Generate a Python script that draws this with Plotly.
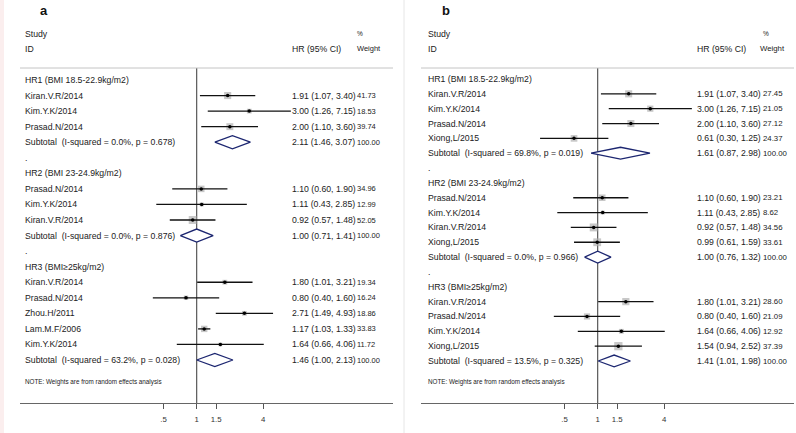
import plotly.graph_objects as go
import math

W, H = 796, 433
FONT = "Liberation Sans, Arial, sans-serif"

# ---------------- data ----------------
group_labels = ["HR1 (BMI 18.5-22.9kg/m2)", "HR2 (BMI 23-24.9kg/m2)", "HR3 (BMI\u226525kg/m2)"]

# Panel a
a_studies = [["Kiran.V.R/2014", "Kim.Y.K/2014", "Prasad.N/2014"],
             ["Prasad.N/2014", "Kim.Y.K/2014", "Kiran.V.R/2014"],
             ["Kiran.V.R/2014", "Prasad.N/2014", "Zhou.H/2011", "Lam.M.F/2006", "Kim.Y.K/2014"]]
a_hr = [[1.91, 3.00, 2.00], [1.10, 1.11, 0.92], [1.80, 0.80, 2.71, 1.17, 1.64]]
a_lo = [[1.07, 1.26, 1.10], [0.60, 0.43, 0.57], [1.01, 0.40, 1.49, 1.03, 0.66]]
a_hi = [[3.40, 7.15, 3.60], [1.90, 2.85, 1.48], [3.21, 1.60, 4.93, 1.33, 4.06]]
a_w = [[41.73, 18.53, 39.74], [34.96, 12.99, 52.05], [19.34, 16.24, 18.86, 33.83, 11.72]]
a_sub_hr = [2.11, 1.00, 1.46]
a_sub_lo = [1.46, 0.71, 1.00]
a_sub_hi = [3.07, 1.41, 2.13]
a_sub_i2 = ["0.0%", "0.0%", "63.2%"]
a_sub_p = ["0.678", "0.876", "0.028"]

# Panel b
b_studies = [["Kiran.V.R/2014", "Kim.Y.K/2014", "Prasad.N/2014", "Xiong,L/2015"],
             ["Prasad.N/2014", "Kim.Y.K/2014", "Kiran.V.R/2014", "Xiong,L/2015"],
             ["Kiran.V.R/2014", "Prasad.N/2014", "Kim.Y.K/2014", "Xiong,L/2015"]]
b_hr = [[1.91, 3.00, 2.00, 0.61], [1.10, 1.11, 0.92, 0.99], [1.80, 0.80, 1.64, 1.54]]
b_lo = [[1.07, 1.26, 1.10, 0.30], [0.60, 0.43, 0.57, 0.61], [1.01, 0.40, 0.66, 0.94]]
b_hi = [[3.40, 7.15, 3.60, 1.25], [1.90, 2.85, 1.48, 1.59], [3.21, 1.60, 4.06, 2.52]]
b_w = [[27.45, 21.05, 27.12, 24.37], [23.21, 8.62, 34.56, 33.61], [28.60, 21.09, 12.92, 37.39]]
b_sub_hr = [1.61, 1.00, 1.41]
b_sub_lo = [0.87, 0.76, 1.01]
b_sub_hi = [2.98, 1.32, 1.98]
b_sub_i2 = ["69.8%", "0.0%", "13.5%"]
b_sub_p = ["0.019", "0.966", "0.325"]

tick_vals = [0.5, 1, 1.5, 4]
tick_text = [".5", "1", "1.5", "4"]

TXT = 8.7

fig = go.Figure()
annotations = []
shapes = []


def px_x(p):
    return p / W


def px_y(p):
    return 1 - p / H


def add_panel(ax_id, studies, hr, lo, hi, w, s_hr, s_lo, s_hi, s_i2, s_p,
              xdom, row0_px, row_step, label_x, ci_x, w_x, w_font, box_k, dia_h, letter, letter_x):
    xa = "x" if ax_id == 1 else "x%d" % ax_id
    ya = "y" if ax_id == 1 else "y%d" % ax_id
    ytop = (68 - row0_px) / row_step
    ybot = (403 - row0_px) / row_step

    ci_x_, ci_y_ = [], []
    bx, by, bs = [], [], []
    dia_traces = []
    r = 0
    txt = []
    for g in range(len(studies)):
        txt.append((r, group_labels[g], None, None))
        r += 1
        for i, s in enumerate(studies[g]):
            ci_x_ += [lo[g][i], hi[g][i], None]
            ci_y_ += [r, r, None]
            bx.append(hr[g][i]); by.append(r); bs.append(box_k * math.sqrt(w[g][i]))
            txt.append((r, s, "%.2f (%.2f, %.2f)" % (hr[g][i], lo[g][i], hi[g][i]), "%.2f" % w[g][i]))
            r += 1
        dia_traces.append(([s_lo[g], s_hr[g], s_hi[g], s_hr[g], s_lo[g]],
                           [r, r - dia_h, r, r + dia_h, r]))
        txt.append((r, "Subtotal  (I-squared = %s, p = %s)" % (s_i2[g], s_p[g]),
                    "%.2f (%.2f, %.2f)" % (s_hr[g], s_lo[g], s_hi[g]), "100.00"))
        last = r
        r += 1
        if g < len(studies) - 1:
            txt.append((r, ".", None, None))
            r += 1

    # null line
    fig.add_trace(go.Scatter(x=[1, 1], y=[ytop, ybot], mode="lines",
                             line=dict(color="#4a4a4a", width=1.1), xaxis=xa, yaxis=ya,
                             hoverinfo="skip", showlegend=False, cliponaxis=False))
    # boxes
    fig.add_trace(go.Scatter(x=bx, y=by, mode="markers",
                             marker=dict(symbol="square", size=bs, color="#b0b0b0", line=dict(width=0)),
                             xaxis=xa, yaxis=ya, showlegend=False))
    # CI lines
    fig.add_trace(go.Scatter(x=ci_x_, y=ci_y_, mode="lines", line=dict(color="#111", width=1.3),
                             xaxis=xa, yaxis=ya, showlegend=False, cliponaxis=False))
    # point estimates
    fig.add_trace(go.Scatter(x=bx, y=by, mode="markers",
                             marker=dict(symbol="circle", size=3.5, color="#000"),
                             xaxis=xa, yaxis=ya, showlegend=False))
    # diamonds
    for dx, dy in dia_traces:
        fig.add_trace(go.Scatter(x=dx, y=dy, mode="lines", fill="toself", fillcolor="white",
                                 line=dict(color="#1c2670", width=1.3),
                                 xaxis=xa, yaxis=ya, showlegend=False))

    yref = ya
    for (row, lab, ci, wt) in txt:
        annotations.append(dict(x=px_x(label_x), y=row, xref="paper", yref=yref, text=lab,
                                showarrow=False, xanchor="left", yanchor="middle",
                                font=dict(family=FONT, size=TXT, color="#222")))
        if ci:
            annotations.append(dict(x=px_x(ci_x), y=row, xref="paper", yref=yref, text=ci,
                                    showarrow=False, xanchor="left", yanchor="middle",
                                    font=dict(family=FONT, size=TXT, color="#222")))
            annotations.append(dict(x=px_x(w_x), y=row, xref="paper", yref=yref, text=wt,
                                    showarrow=False, xanchor="left", yanchor="middle",
                                    font=dict(family=FONT, size=w_font, color="#222")))
    annotations.append(dict(x=px_x(label_x), y=last + 1.42, xref="paper", yref=yref,
                            text="NOTE: Weights are from random effects analysis",
                            showarrow=False, xanchor="left", yanchor="middle",
                            font=dict(family=FONT, size=6.3, color="#222")))
    # headers
    for t, xx, yy, sz in [("Study", label_x, 34, TXT), ("ID", label_x, 49, TXT),
                          ("HR (95% CI)", ci_x, 49, TXT), ("%", w_x, 33, 6.5),
                          ("Weight", w_x - (0 if ax_id == 1 else 3), 49, w_font)]:
        annotations.append(dict(x=px_x(xx), y=px_y(yy), xref="paper", yref="paper", text=t,
                                showarrow=False, xanchor="left", yanchor="middle",
                                font=dict(family=FONT, size=sz, color="#222")))
    annotations.append(dict(x=px_x(letter_x), y=px_y(10), xref="paper", yref="paper",
                            text="<b>%s</b>" % letter, showarrow=False, xanchor="center",
                            yanchor="middle", font=dict(family=FONT, size=13, color="#111")))
    # header rule
    shapes.append(dict(type="line", xref="paper", yref="paper", x0=xdom[0], x1=xdom[1],
                       y0=px_y(68), y1=px_y(68), line=dict(color="#c4c4c4", width=1)))

    axis_common = dict(type="log", range=[-1.603, 1.781], tickvals=tick_vals, ticktext=tick_text,
                       ticks="outside", ticklen=5, tickcolor="#555", tickwidth=1,
                       showline=True, linecolor="#666", linewidth=1.3, showgrid=False,
                       zeroline=False, tickfont=dict(family=FONT, size=7.8, color="#333"),
                       ticklabelstandoff=3, fixedrange=True)
    yaxis_common = dict(range=[ybot, ytop], showgrid=False, zeroline=False, showticklabels=False,
                        showline=False, ticks="", fixedrange=True)
    key = "xaxis" if ax_id == 1 else "xaxis%d" % ax_id
    ykey = "yaxis" if ax_id == 1 else "yaxis%d" % ax_id
    fig.layout[key] = dict(domain=list(xdom), anchor=ya, **axis_common)
    fig.layout[ykey] = dict(domain=[px_y(403), px_y(68)], anchor=xa, **yaxis_common)


add_panel(1, a_studies, a_hr, a_lo, a_hi, a_w, a_sub_hr, a_sub_lo, a_sub_hi, a_sub_i2, a_sub_p,
          (px_x(20), px_x(393)), 80, 15.556, 23, 290, 355, 7.5, 1.1, 0.42, "a", 44)
add_panel(2, b_studies, b_hr, b_lo, b_hi, b_w, b_sub_hr, b_sub_lo, b_sub_hi, b_sub_i2, b_sub_p,
          (px_x(421), px_x(794)), 79, 14.842, 426, 695, 761, 7.8, 1.35, 0.40, "b", 446)

# separator and left edge tint
shapes.append(dict(type="line", xref="paper", yref="paper", x0=px_x(404), x1=px_x(404), y0=0, y1=1,
                   line=dict(color="#e6e6e6", width=1)))
shapes.append(dict(type="rect", xref="paper", yref="paper", x0=0, x1=px_x(4), y0=0, y1=1,
                   fillcolor="#fbeeee", line=dict(width=0), layer="below"))

fig.update_layout(width=W, height=H, margin=dict(l=0, r=0, t=0, b=0),
                  paper_bgcolor="white", plot_bgcolor="white",
                  annotations=annotations, shapes=shapes, showlegend=False)

fig.write_html("out.html", config={"displayModeBar": False},
               post_script="document.body.style.margin='0';document.body.style.padding='0';document.body.style.overflow='hidden';")
